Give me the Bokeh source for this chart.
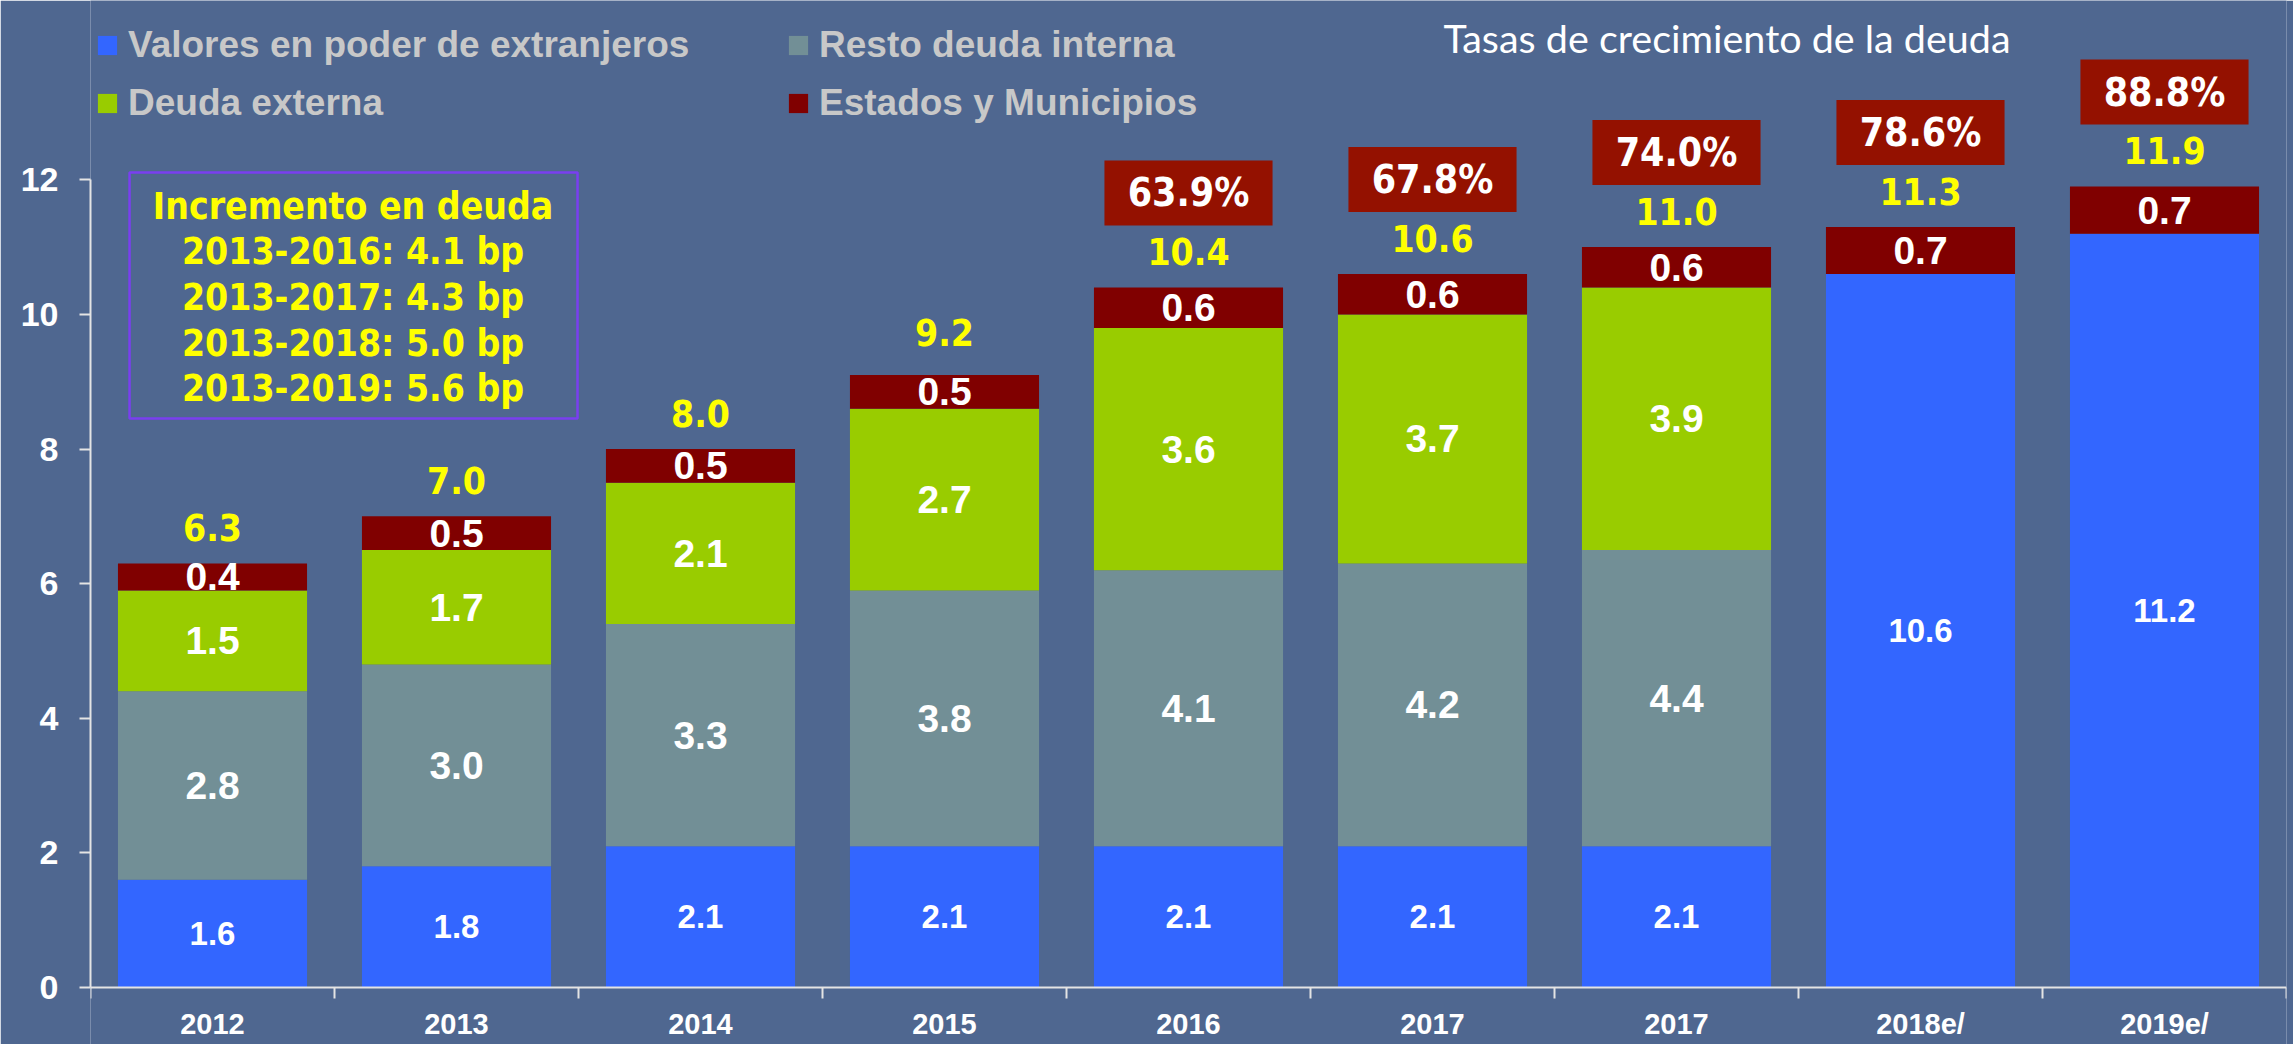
import numpy as np
from bokeh.plotting import figure
from bokeh.models import (ColumnDataSource, Range1d, FixedTicker, Legend, LegendItem,
                          Label, BoxAnnotation)
from bokeh.core.properties import value
from bokeh.embed import file_html
from bokeh.resources import INLINE

# ---------------- data ----------------
years = ["2012", "2013", "2014", "2015", "2016", "2017", "2017", "2018e/", "2019e/"]
valores = [1.6, 1.8, 2.1, 2.1, 2.1, 2.1, 2.1, 10.6, 11.2]
resto = [2.8, 3.0, 3.3, 3.8, 4.1, 4.2, 4.4, 0.0, 0.0]
externa = [1.5, 1.7, 2.1, 2.7, 3.6, 3.7, 3.9, 0.0, 0.0]
estados = [0.4, 0.5, 0.5, 0.5, 0.6, 0.6, 0.6, 0.7, 0.7]
totales = [6.3, 7.0, 8.0, 9.2, 10.4, 10.6, 11.0, 11.3, 11.9]
tasas = [None, None, None, None, 63.9, 67.8, 74.0, 78.6, 88.8]
series_names = ["Valores en poder de extranjeros", "Resto deuda interna",
                "Deuda externa", "Estados y Municipios"]
y_ticks = [0, 2, 4, 6, 8, 10, 12]
incremento_titulo = "Incremento en deuda"
incremento_periodos = ["2013-2016", "2013-2017", "2013-2018", "2013-2019"]
incremento_bp = [4.1, 4.3, 5.0, 5.6]
chart_title = "Tasas de crecimiento de la deuda"

# ---------------- style ----------------
BG = "#4F6790"
COLORS = ["#3366FF", "#728F96", "#99CC00", "#800000"]
BOX_RED = "#941100"
AXIS_C = "#E4E4E4"
ARIAL = value("Liberation Sans")
TAHOMA = value("'DejaVu Sans Condensed', 'DejaVu Sans', sans-serif")

n = len(years)
xc = np.arange(n) + 0.5
keys = ["valores", "resto", "externa", "estados"]
vals = [np.array(valores), np.array(resto), np.array(externa), np.array(estados)]

p = figure(width=2293, height=1044, x_range=Range1d(0, n), y_range=Range1d(-0.847, 14.664),
           output_backend="svg", toolbar_location=None,
           min_border_left=90, min_border_right=7, min_border_top=0, min_border_bottom=0,
           background_fill_color=BG, border_fill_color=BG, outline_line_color=None)
p.xgrid.visible = False
p.ygrid.visible = False

src = ColumnDataSource(dict(x=xc, **{k: v for k, v in zip(keys, vals)}))
rs = p.vbar_stack(keys, x="x", width=0.775, fill_color=COLORS, line_color=None, source=src)

# segment labels
bottom = np.zeros(n)
seg_x, seg_y, seg_t = [], [], []
blue_x, blue_y, blue_t = [], [], []
for si, v in enumerate(vals):
    for i in range(n):
        if v[i] > 0:
            if si == 0:
                blue_x.append(xc[i]); blue_y.append(bottom[i] + v[i] / 2); blue_t.append(f"{v[i]:.1f}")
            else:
                seg_x.append(xc[i]); seg_y.append(bottom[i] + v[i] / 2); seg_t.append(f"{v[i]:.1f}")
    bottom = bottom + v

p.text(x=blue_x, y=blue_y, text=blue_t, text_align="center", text_baseline="middle",
       text_color="white", text_font=ARIAL, text_font_style="bold", text_font_size="33px")
p.text(x=seg_x, y=seg_y, text=seg_t, text_align="center", text_baseline="middle",
       text_color="white", text_font=ARIAL, text_font_style="bold", text_font_size="39px")

# totals
tot = np.array(totales)
p.text(x=xc, y=tot + 0.53, text=[f"{t:.1f}" for t in totales], text_align="center",
       text_baseline="middle", text_color="#FFFF00", text_font=TAHOMA,
       text_font_style="bold", text_font_size="37px")

# growth-rate boxes
gi = [i for i, t in enumerate(tasas) if t is not None]
gx = xc[gi]
gy = tot[gi] + 1.404
p.rect(x=gx, y=gy, width=0.689, height=0.966, fill_color=BOX_RED, line_color=None)
p.text(x=gx, y=gy, text=[f"{tasas[i]:.1f}%" for i in gi], text_align="center",
       text_baseline="middle", text_color="white", text_font=TAHOMA,
       text_font_style="bold", text_font_size="39px")

# increment box
p.add_layout(BoxAnnotation(left=0.160, right=1.996, bottom=8.453, top=12.108,
                           fill_color=None, fill_alpha=0, line_color="#7A3FF0",
                           line_alpha=1.0, line_width=2.5))
lines = [incremento_titulo] + [f"{a}: {b:.1f} bp" for a, b in zip(incremento_periodos, incremento_bp)]
ly = 11.606 - 0.678 * np.arange(len(lines))
p.text(x=[1.076] * len(lines), y=ly, text=lines, text_align="center", text_baseline="middle",
       text_color="#FFFF00", text_font=TAHOMA, text_font_style="bold", text_font_size="37px")

# title
p.add_layout(Label(x=6.707, y=14.118, text=chart_title, text_align="center",
                   text_baseline="alphabetic", text_color="white", text_font="Lato",
                   text_font_size="39.5px"))

# legends (two columns)
def make_legend(items, loc):
    return Legend(items=items, location=loc, orientation="vertical",
                  glyph_width=24, glyph_height=24, label_standoff=9, spacing=16,
                  padding=0, margin=0, border_line_color=None, background_fill_alpha=0,
                  label_text_font="Liberation Sans", label_text_font_style="bold",
                  label_text_font_size="37px", label_text_color="#C8C8C8")

p.add_layout(make_legend([LegendItem(label=series_names[0], renderers=[rs[0]]),
                          LegendItem(label=series_names[2], renderers=[rs[2]])], (5, 920)))
p.add_layout(make_legend([LegendItem(label=series_names[1], renderers=[rs[1]]),
                          LegendItem(label=series_names[3], renderers=[rs[3]])], (696, 920)))

# axes
ya = p.yaxis[0]
ya.ticker = FixedTicker(ticks=y_ticks)
ya.bounds = (0, 12)
ya.axis_line_color = AXIS_C
ya.axis_line_width = 2
ya.major_tick_line_color = AXIS_C
ya.major_tick_line_width = 2
ya.major_tick_out = 11
ya.major_tick_in = 0
ya.minor_tick_line_color = None
ya.major_label_standoff = 21
ya.major_label_text_font = "Liberation Sans"
ya.major_label_text_font_style = "bold"
ya.major_label_text_font_size = "34px"
ya.major_label_text_color = "white"

xa = p.xaxis[0]
xa.fixed_location = 0
xa.ticker = FixedTicker(ticks=list(xc), minor_ticks=list(range(n + 1)))
xa.major_label_overrides = {float(x): y for x, y in zip(xc, years)}
xa.axis_line_color = AXIS_C
xa.axis_line_width = 2
xa.major_tick_line_color = None
xa.major_tick_out = 0
xa.major_tick_in = 0
xa.minor_tick_line_color = AXIS_C
xa.minor_tick_line_width = 2
xa.minor_tick_out = 11
xa.minor_tick_in = 0
xa.major_label_standoff = 10
xa.major_label_text_font = "Liberation Sans"
xa.major_label_text_font_style = "bold"
xa.major_label_text_font_size = "29px"
xa.major_label_text_color = "white"

open("out.html", "w").write(file_html(p, INLINE))
